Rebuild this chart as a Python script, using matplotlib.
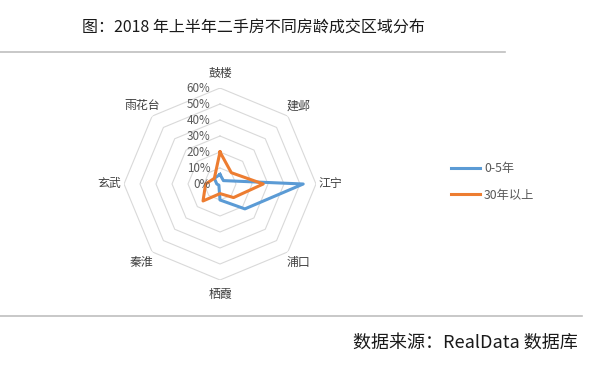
import numpy as np
import matplotlib.pyplot as plt
from matplotlib.lines import Line2D
from matplotlib.transforms import offset_copy

plt.rcParams['font.family'] = ['Noto Sans CJK SC', 'DejaVu Sans']

districts = ["鼓楼", "建邺", "江宁", "浦口", "栖霞", "秦淮", "玄武", "雨花台"]
new_homes = [0.06, 0.03, 0.52, 0.22, 0.10, 0.01, 0.02, 0.05]     # 0-5年
old_homes = [0.20, 0.10, 0.27, 0.12, 0.06, 0.15, 0.09, 0.05]     # 30年以上
series_names = ["0-5年", "30年以上"]
r_ticks = [0.0, 0.1, 0.2, 0.3, 0.4, 0.5, 0.6]
r_labels = ["0%", "10%", "20%", "30%", "40%", "50%", "60%"]

W, H = 602, 370
fig = plt.figure(figsize=(W / 100, H / 100), dpi=100)

cx, cy, R = 220, 184, 96
ax = fig.add_axes([(cx - R) / W, (H - cy - R) / H, 2 * R / W, 2 * R / H],
                  projection="polar")
ax.set_theta_zero_location("N")
ax.set_theta_direction(-1)
ax.set_ylim(0, 0.6)
ax.spines["polar"].set_visible(False)
ax.grid(False)
ax.set_xticks([])
ax.set_yticks([])
ax.patch.set_alpha(0)

n = len(districts)
theta = np.arange(n) * 2 * np.pi / n
theta_c = np.append(theta, theta[0])

# octagon grid
for r in r_ticks[1:]:
    ax.plot(theta_c, [r] * (n + 1), color="#d9d9d9", lw=0.8, zorder=1)

def closed(v):
    return list(v) + [v[0]]

ax.plot(theta_c, closed(new_homes), color="#5b9bd5", lw=2.2, zorder=3,
        solid_joinstyle="round")
ax.plot(theta_c, closed(old_homes), color="#ed7d31", lw=2.2, zorder=3,
        solid_joinstyle="round")

# radial tick labels
tr = offset_copy(ax.transData, fig=fig, x=-7, y=0, units="points")
for r, lab in zip(r_ticks, r_labels):
    ax.text(0, r, lab, transform=tr, ha="right", va="center",
            fontsize=8.4, color="#595959")

for t, name in zip(theta, districts):
    ax.text(t, 0.69, name, ha="center", va="center", fontsize=8.6,
            color="#404040", clip_on=False)

handles = [Line2D([], [], color="#5b9bd5", lw=2.2),
           Line2D([], [], color="#ed7d31", lw=2.2)]
fig.legend(handles, series_names, loc="center left",
           bbox_to_anchor=(440 / W, 1 - 182 / H), frameon=False,
           fontsize=8.8, handlelength=2.4, handletextpad=0.3,
           labelspacing=1.1, labelcolor="#595959")

fig.text(253 / W, 1 - 27 / H, "图：2018 年上半年二手房不同房龄成交区域分布",
         ha="center", va="center", fontsize=11.5, color="#1a1a1a")
fig.add_artist(Line2D([0, 505 / W], [1 - 52 / H] * 2, color="#bfbfbf", lw=1.2))
fig.add_artist(Line2D([0, 582 / W], [1 - 316 / H] * 2, color="#bfbfbf", lw=1.2))
fig.text(578 / W, 1 - 343 / H, "数据来源：RealData 数据库",
         ha="right", va="center", fontsize=13, color="#1a1a1a")

fig.savefig("out.png", dpi=100)
